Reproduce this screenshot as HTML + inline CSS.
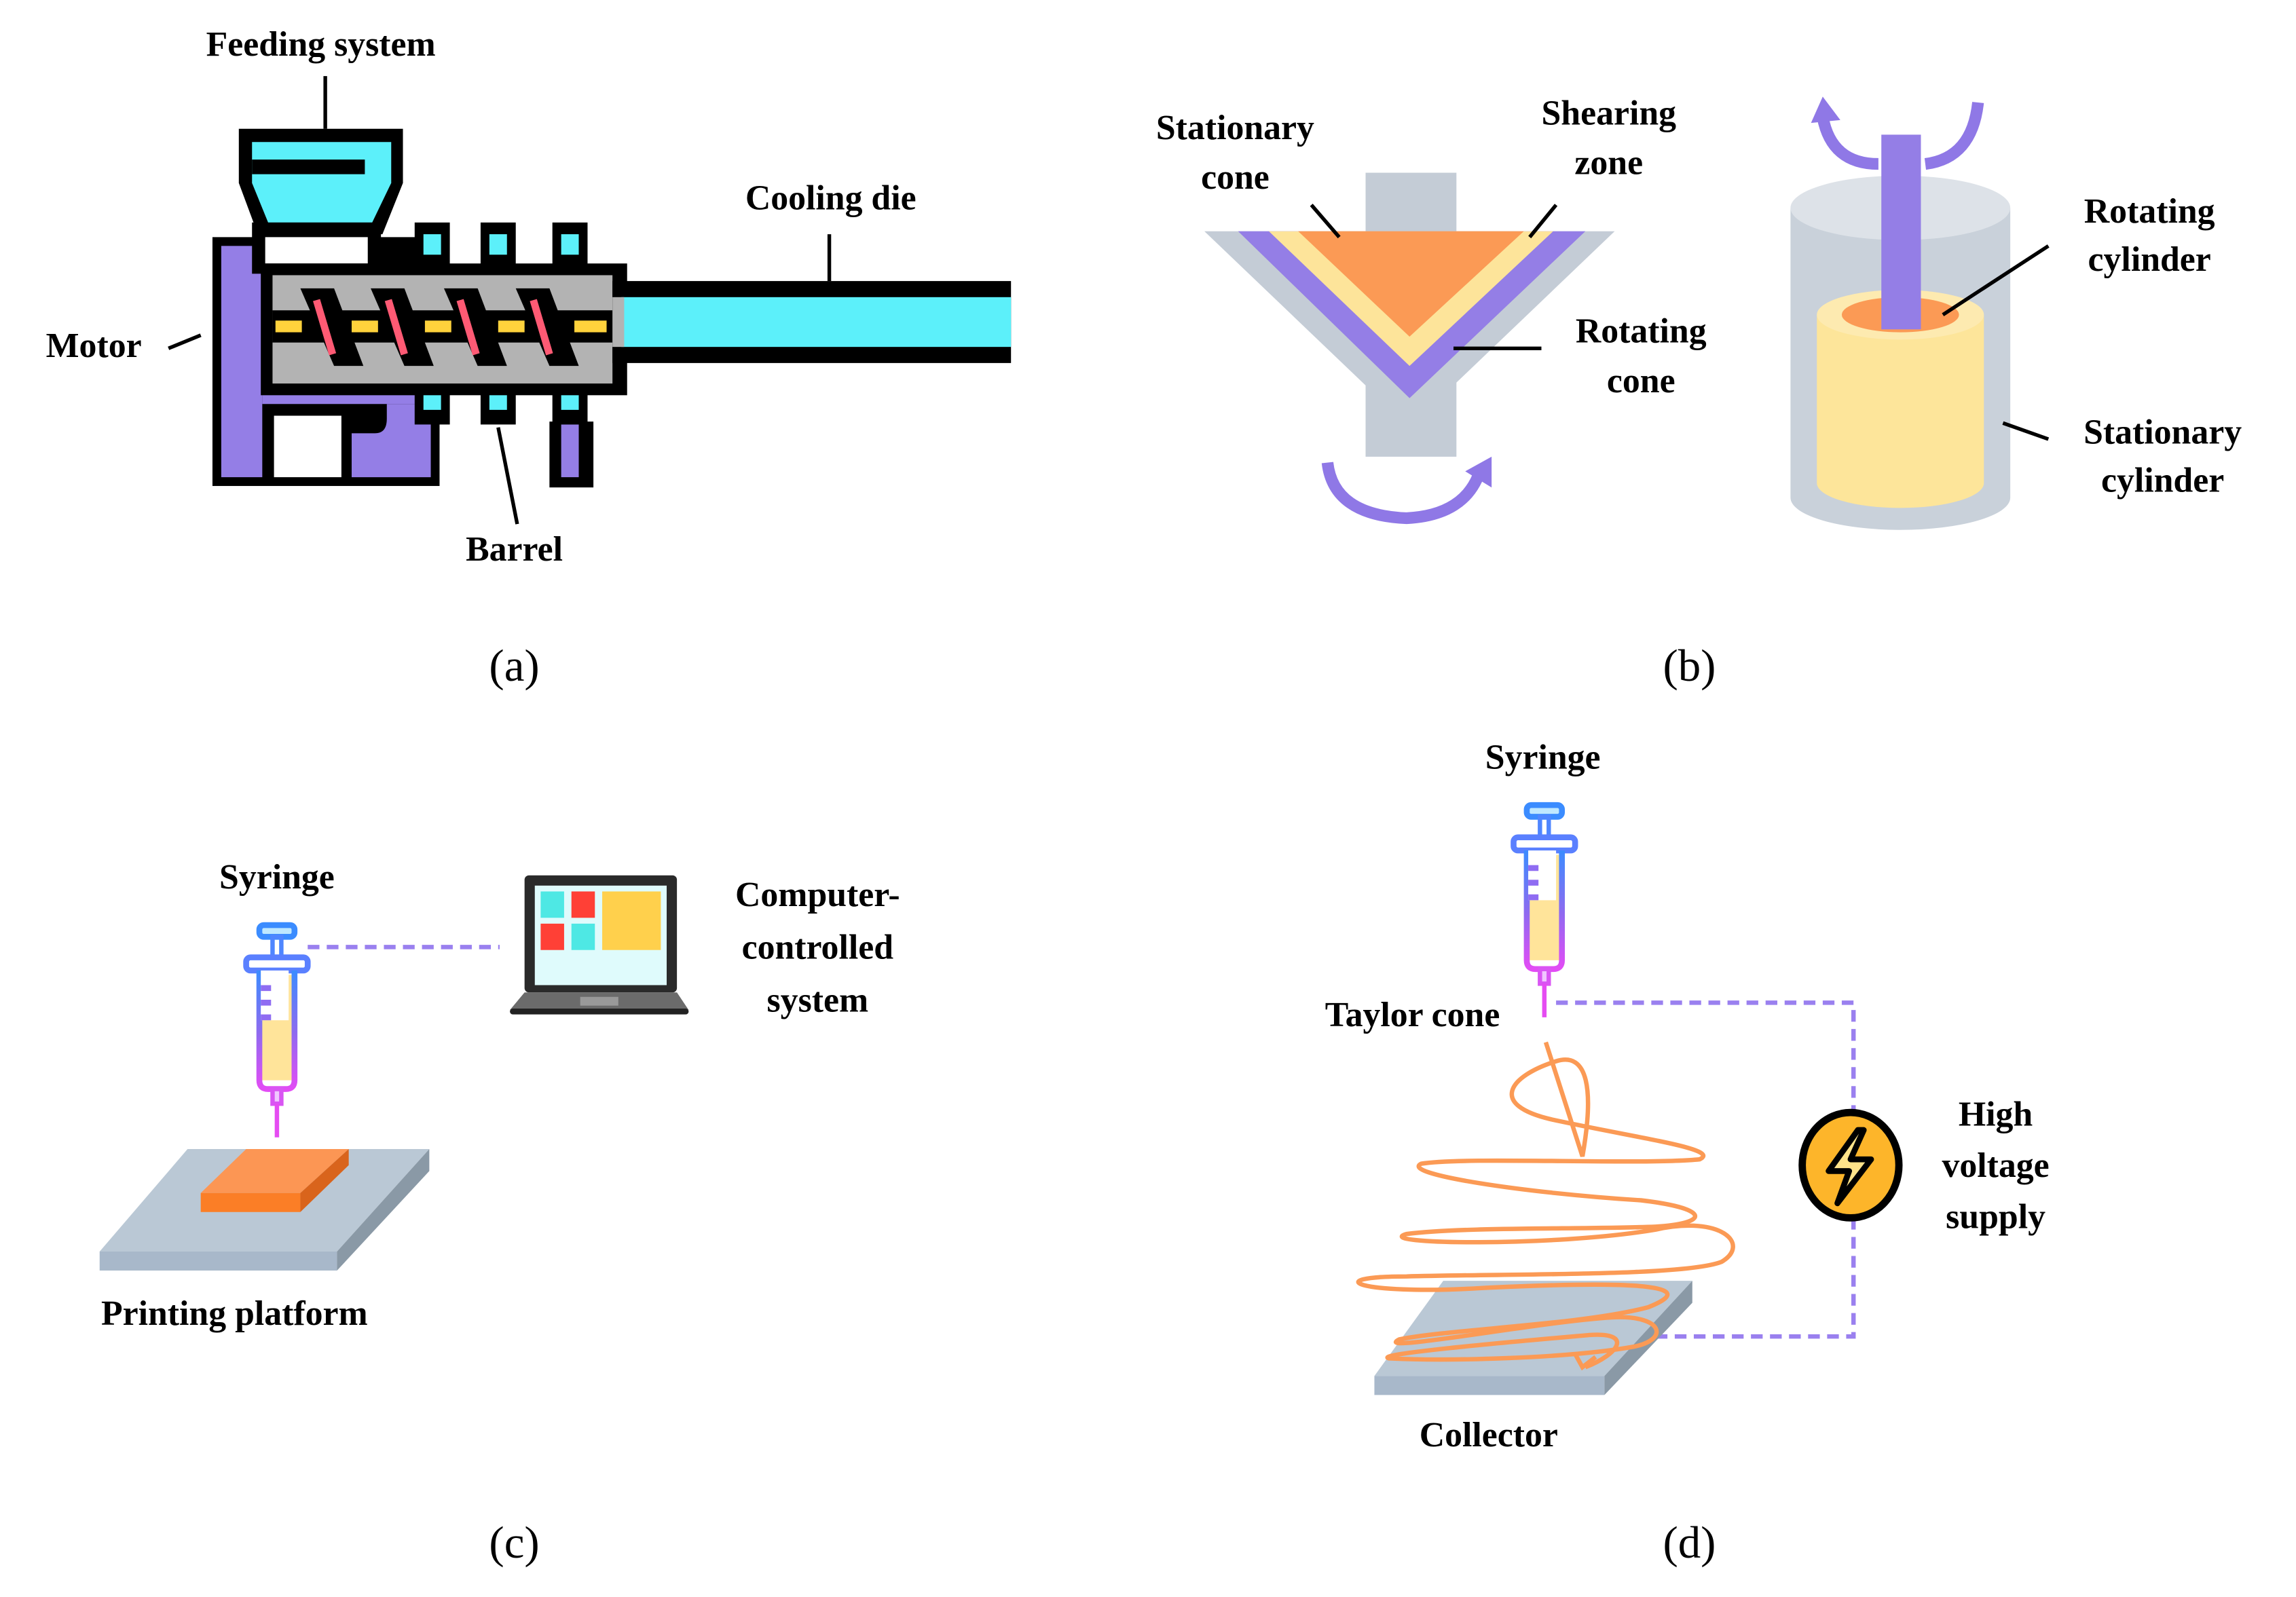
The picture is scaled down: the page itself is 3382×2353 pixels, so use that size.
<!DOCTYPE html>
<html><head><meta charset="utf-8"><style>
html,body{margin:0;padding:0;background:#fff;}
svg{display:block;}
text{font-family:"Liberation Serif",serif;font-weight:bold;font-size:24px;fill:#000;}
.cap{font-weight:normal;font-size:31px;}
</style></head><body>
<svg width="3382" height="2353" viewBox="0 0 1567 1091" preserveAspectRatio="none" xmlns="http://www.w3.org/2000/svg">
<defs>
<linearGradient id="sg" x1="0" y1="0" x2="0" y2="1">
<stop offset="0" stop-color="#3b8cff"/><stop offset="0.5" stop-color="#8a6cf0"/><stop offset="1" stop-color="#e24cf5"/>
</linearGradient>
<g id="syr">
<rect x="-12" y="2" width="24" height="8" rx="3" fill="#bfe8ff" stroke="#3b8cff" stroke-width="4"/>
<rect x="-3" y="10" width="6" height="14" fill="none" stroke="#4f86ff" stroke-width="3"/>
<rect x="-21" y="24" width="42" height="9" rx="3" fill="#fff" stroke="#5a80ff" stroke-width="4"/>
<rect x="-11" y="36" width="22" height="72" fill="#ffe49a" stroke="none"/>
<path d="M-12,33 V108 Q-12,114 -6,114 H6 Q12,114 12,108 V33" fill="none" stroke="url(#sg)" stroke-width="4"/>
<rect x="-11" y="33" width="19" height="34" fill="#fff"/>
<path d="M-11,45 H-4 M-11,55 H-4 M-11,65 H-4" stroke="#8f6cf2" stroke-width="4"/>
<rect x="-3" y="114" width="6" height="10" fill="#f0c6ff" stroke="#d955f3" stroke-width="3"/>
<line x1="0" y1="124" x2="0" y2="147" stroke="#e54cf2" stroke-width="3"/>
</g>
</defs>

<!-- ===== (a) ===== -->
<text x="219" y="38" text-anchor="middle">Feeding system</text>
<line x1="222" y1="52" x2="222" y2="88" stroke="#000" stroke-width="2.5"/>
<rect x="145" y="162" width="155" height="170" fill="#000"/>
<rect x="151" y="168" width="28" height="158" fill="#947ee6"/>
<rect x="179" y="262" width="105" height="14" fill="#947ee6"/>
<rect x="187" y="284" width="46" height="42" fill="#fff"/>
<path d="M240,296 H256 Q264,296 264,286 V276 H294 V326 H240 Z" fill="#947ee6"/>
<rect x="375" y="288" width="30" height="45" fill="#000"/>
<rect x="383" y="290" width="12" height="36" fill="#947ee6"/>
<path d="M163,88 H275 V125 L261,160 H176 L163,125 Z" fill="#000"/>
<path d="M172,97 H267 V125 L254,152 H183 L172,125 Z" fill="#5cf0fa"/>
<rect x="172" y="109" width="77" height="10" fill="#000"/>
<rect x="172" y="152" width="88" height="35" fill="#000"/>
<rect x="181" y="162" width="70" height="18" fill="#fff"/>
<g fill="#000">
<rect x="283" y="152" width="24" height="36"/><rect x="328" y="152" width="24" height="36"/><rect x="377" y="152" width="24" height="36"/>
<rect x="283" y="262" width="24" height="28"/><rect x="328" y="262" width="24" height="28"/><rect x="377" y="262" width="24" height="28"/>
</g>
<g fill="#5cf0fa">
<rect x="289" y="160" width="12" height="14"/><rect x="334" y="160" width="12" height="14"/><rect x="383" y="160" width="12" height="14"/>
<rect x="289" y="268" width="12" height="12"/><rect x="334" y="268" width="12" height="12"/><rect x="383" y="268" width="12" height="12"/>
</g>
<rect x="178" y="180" width="250" height="90" fill="#000"/>
<rect x="186" y="188" width="232" height="74" fill="#b3b3b3"/>
<rect x="186" y="212" width="232" height="22" fill="#000"/>
<g fill="#000">
<polygon points="205,197 228,197 248,250 228,250"/>
<polygon points="253,197 276,197 296,250 276,250"/>
<polygon points="303,197 326,197 346,250 326,250"/>
<polygon points="352,197 375,197 395,250 375,250"/>
</g>
<g fill="#ffd23c">
<rect x="188" y="219" width="18" height="8"/><rect x="240" y="219" width="18" height="8"/><rect x="290" y="219" width="18" height="8"/><rect x="340" y="219" width="18" height="8"/><rect x="392" y="219" width="22" height="8"/>
</g>
<g stroke="#ff5a74" stroke-width="5">
<line x1="216" y1="205" x2="227" y2="242"/><line x1="265" y1="205" x2="276" y2="242"/><line x1="314" y1="205" x2="325" y2="242"/><line x1="364" y1="205" x2="375" y2="242"/>
</g>
<rect x="418" y="192" width="272" height="56" fill="#000"/>
<rect x="424" y="203" width="266" height="34" fill="#5cf0fa"/>
<rect x="418" y="203" width="8" height="34" fill="#b3b3b3"/>
<text x="567" y="143" text-anchor="middle">Cooling die</text>
<line x1="566" y1="160" x2="566" y2="192" stroke="#000" stroke-width="2.5"/>
<text x="64" y="244" text-anchor="middle">Motor</text>
<line x1="115" y1="238" x2="137" y2="229" stroke="#000" stroke-width="2.5"/>
<text x="351" y="383" text-anchor="middle">Barrel</text>
<line x1="340" y1="292" x2="353" y2="358" stroke="#000" stroke-width="2.5"/>
<text class="cap" x="351" y="465" text-anchor="middle">(a)</text>

<!-- ===== (b) ===== -->
<rect x="932" y="118" width="62" height="194" fill="#c4ccd6"/>
<polygon points="822,158 1102,158 962,292" fill="#c4ccd6"/>
<polygon points="845,158 1082,158 962,272" fill="#947ee6"/>
<polygon points="866,158 1060,158 962,250" fill="#fde49a"/>
<polygon points="886,158 1040,158 962,230" fill="#fb9a55"/>
<path d="M906,316 Q910,352 960,354 Q1000,352 1010,322" fill="none" stroke="#8f78e6" stroke-width="8"/>
<polygon points="1000,322 1018,312 1018,333" fill="#8f78e6"/>
<text x="843" y="95" text-anchor="middle">Stationary</text>
<text x="843" y="129" text-anchor="middle">cone</text>
<line x1="895" y1="140" x2="914" y2="162" stroke="#000" stroke-width="2.5"/>
<text x="1098" y="85" text-anchor="middle">Shearing</text>
<text x="1098" y="119" text-anchor="middle">zone</text>
<line x1="1062" y1="140" x2="1044" y2="162" stroke="#000" stroke-width="2.5"/>
<text x="1120" y="234" text-anchor="middle">Rotating</text>
<text x="1120" y="268" text-anchor="middle">cone</text>
<line x1="1052" y1="238" x2="992" y2="238" stroke="#000" stroke-width="2.5"/>
<path d="M1222,142 V340 A75,22 0 0 0 1372,340 V142 Z" fill="#c9d1da"/>
<ellipse cx="1297" cy="142" rx="75" ry="22" fill="#dde2e8"/>
<path d="M1240,215 V330 A57,17 0 0 0 1354,330 V215 Z" fill="#fde59a"/>
<ellipse cx="1297" cy="215" rx="57" ry="17" fill="#fdeab0"/>
<ellipse cx="1297" cy="215" rx="40" ry="12" fill="#fb9a55"/>
<rect x="1284" y="92" width="27" height="133" fill="#947ee6"/>
<path d="M1244,80 Q1250,112 1282,112 M1314,112 Q1346,108 1350,70" fill="none" stroke="#8f78e6" stroke-width="8"/>
<polygon points="1236,84 1244,66 1256,82" fill="#8f78e6"/>
<text x="1467" y="152" text-anchor="middle">Rotating</text>
<text x="1467" y="185" text-anchor="middle">cylinder</text>
<line x1="1398" y1="168" x2="1326" y2="215" stroke="#000" stroke-width="2.5"/>
<text x="1476" y="303" text-anchor="middle">Stationary</text>
<text x="1476" y="336" text-anchor="middle">cylinder</text>
<line x1="1398" y1="300" x2="1367" y2="289" stroke="#000" stroke-width="2.5"/>
<text class="cap" x="1153" y="465" text-anchor="middle">(b)</text>

<!-- ===== (c) ===== -->
<text x="189" y="607" text-anchor="middle">Syringe</text>
<use href="#syr" x="189" y="630"/>
<line x1="210" y1="647" x2="341" y2="647" stroke="#9a80ef" stroke-width="3" stroke-dasharray="8,5"/>
<rect x="358" y="598" width="104" height="80" rx="3" fill="#2a2a2a"/>
<rect x="365" y="605" width="90" height="68" fill="#dffbfc"/>
<rect x="369" y="609" width="16" height="18" fill="#4ee8e4"/>
<rect x="390" y="609" width="16" height="18" fill="#ff4036"/>
<rect x="369" y="631" width="16" height="18" fill="#ff4036"/>
<rect x="390" y="631" width="16" height="18" fill="#4ee8e4"/>
<rect x="411" y="609" width="40" height="40" fill="#ffd04c"/>
<polygon points="358,678 462,678 470,690 348,690" fill="#6b6b6b"/>
<rect x="348" y="689" width="122" height="4" rx="2" fill="#222"/>
<rect x="396" y="681" width="26" height="6" fill="#999"/>
<text x="558" y="619" text-anchor="middle">Computer-</text>
<text x="558" y="655" text-anchor="middle">controlled</text>
<text x="558" y="691" text-anchor="middle">system</text>
<polygon points="128,785 293,785 230,855 68,855" fill="#bac8d5"/>
<polygon points="68,855 230,855 230,868 68,868" fill="#a8b8ca"/>
<polygon points="230,855 293,785 293,800 230,868" fill="#8a99a6"/>
<polygon points="168,785 238,785 205,815 137,815" fill="#fc9654"/>
<rect x="137" y="815" width="68" height="13" fill="#fb7e26"/>
<polygon points="205,815 238,785 238,796 205,828" fill="#d9641c"/>
<text x="160" y="905" text-anchor="middle">Printing platform</text>
<text class="cap" x="351" y="1064" text-anchor="middle">(c)</text>

<!-- ===== (d) ===== -->
<text x="1053" y="525" text-anchor="middle">Syringe</text>
<use href="#syr" x="1054" y="548"/>
<text x="964" y="701" text-anchor="middle">Taylor cone</text>
<path d="M1062,685 H1265 V762 M1265,832 V913 H1130" fill="none" stroke="#9a80ef" stroke-width="3" stroke-dasharray="8,5"/>
<polygon points="985,875 1155,875 1095,940 938,940" fill="#bac8d5"/>
<polygon points="938,940 1095,940 1095,953 938,953" fill="#a8b8ca"/>
<polygon points="1095,940 1155,875 1155,890 1095,953" fill="#8a99a6"/>
<path d="M1055,712 L1080,790 C1088,745 1084,718 1062,725 C1030,735 1015,755 1060,765 C1120,778 1175,785 1160,792 C1120,796 1000,790 970,795 C955,802 1040,815 1120,820 C1170,826 1165,836 1130,838 C1080,840 1000,838 960,843 C935,850 1060,852 1130,840 C1175,830 1195,850 1175,862 C1150,872 1030,870 960,872 C900,872 925,885 1010,880 C1090,876 1170,875 1125,893 C1080,905 990,908 955,915 C935,925 1050,903 1100,900 C1135,898 1140,915 1115,920 C1070,928 990,930 948,928 C935,925 1040,916 1085,912 C1115,910 1105,925 1082,934" fill="none" stroke="#fb9a55" stroke-width="3"/>
<path d="M1075,925 L1080,934 L1089,927" fill="none" stroke="#fb9a55" stroke-width="3"/>
<ellipse cx="1263" cy="796" rx="33" ry="36" fill="#fdb52a" stroke="#000" stroke-width="5"/>
<polygon points="1268,772 1248,800 1262,800 1254,822 1277,792 1263,792 1272,772" fill="#ffe38a" stroke="#000" stroke-width="4" stroke-linejoin="round"/>
<text x="1362" y="769" text-anchor="middle">High</text>
<text x="1362" y="804" text-anchor="middle">voltage</text>
<text x="1362" y="839" text-anchor="middle">supply</text>
<text x="1016" y="988" text-anchor="middle">Collector</text>
<text class="cap" x="1153" y="1064" text-anchor="middle">(d)</text>
</svg>
</body></html>
